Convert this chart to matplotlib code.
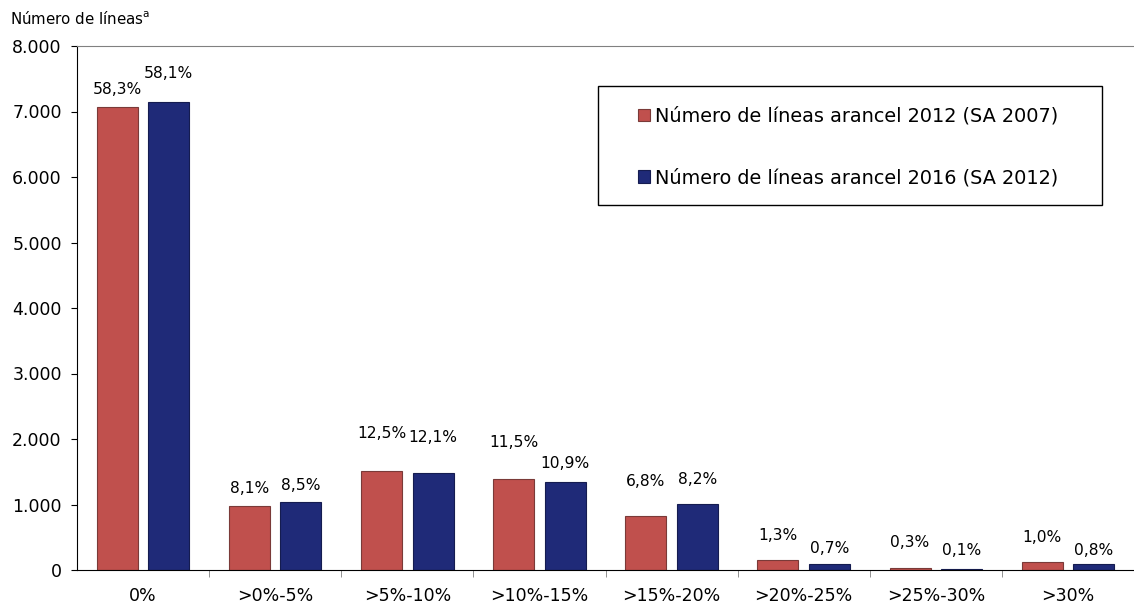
import numpy as np
import matplotlib.pyplot as plt
from matplotlib.patches import Rectangle

plt.rcParams['font.family'] = 'DejaVu Sans'

# tramos arancelarios
categorias = ['0%', '>0%-5%', '>5%-10%', '>10%-15%', '>15%-20%', '>20%-25%', '>25%-30%', '>30%']
# número de líneas
lineas_2012 = [7069, 982, 1516, 1394, 825, 158, 36, 121]
lineas_2016 = [7145, 1045, 1488, 1340, 1008, 86, 12, 98]
# porcentajes
pct_2012 = ['58,3%', '8,1%', '12,5%', '11,5%', '6,8%', '1,3%', '0,3%', '1,0%']
pct_2016 = ['58,1%', '8,5%', '12,1%', '10,9%', '8,2%', '0,7%', '0,1%', '0,8%']
# separación de las etiquetas sobre cada barra (pixeles)
sep_2012 = [17, 17, 37, 36, 34, 24, 25, 25]
sep_2016 = [29, 16, 35, 19, 24, 16, 19, 13]

rojo = '#C0504D'
azul = '#1F2A78'

fig = plt.figure(figsize=(11.34, 6.05), dpi=100)
ax = fig.add_axes([77/1134, 35/605, 1 - 77/1134, 524/605])

x = np.arange(len(categorias))
w = 0.31
d = 0.195
b1 = ax.bar(x - d, lineas_2012, w, color=rojo, edgecolor='#7a3a38', linewidth=0.8,
            label='Número de líneas arancel 2012 (SA 2007)')
b2 = ax.bar(x + d, lineas_2016, w, color=azul, edgecolor='#151c50', linewidth=0.8,
            label='Número de líneas arancel 2016 (SA 2012)')

for rect, txt, s in zip(b1, pct_2012, sep_2012):
    ax.annotate(txt, (rect.get_x() + rect.get_width()/2, rect.get_height()),
                xytext=(0, s), textcoords='offset pixels', ha='center', va='center', fontsize=11.2)
for rect, txt, s in zip(b2, pct_2016, sep_2016):
    ax.annotate(txt, (rect.get_x() + rect.get_width()/2, rect.get_height()),
                xytext=(0, s), textcoords='offset pixels', ha='center', va='center', fontsize=11.2)

ax.set_ylim(0, 8000)
ax.set_yticks(range(0, 8001, 1000))
ax.set_yticklabels(['0'] + [f'{v // 1000}.000' for v in range(1000, 8001, 1000)], fontsize=12.5)
ax.set_xlim(-0.5, -0.5 + (1134 - 76.7) / 132.6)
ax.set_xticks(x)
ax.set_xticklabels(categorias, fontsize=12.5)
ax.set_xticks(np.arange(0.5, len(categorias), 1), minor=True)
ax.tick_params(axis='x', which='major', length=0, pad=12)
ax.tick_params(axis='x', which='minor', length=5, color='#808080', direction='out')
ax.tick_params(axis='y', length=4, direction='out', pad=7)

ax.spines['right'].set_visible(False)
ax.spines['top'].set_color('#808080')
ax.spines['left'].set_color('black')
ax.spines['bottom'].set_color('black')

# recuadro de la leyenda
fig.patches.append(Rectangle((598/1134, 1 - 205/605), 504/1134, 119/605, transform=fig.transFigure,
                             facecolor='white', edgecolor='black', linewidth=1.0, zorder=5))
leg = fig.legend(loc='center left', bbox_to_anchor=(638/1134, 1 - 147/605), fontsize=13.9, frameon=False,
                 handlelength=0.62, handleheight=0.62, handletextpad=0.25, labelspacing=2.2,
                 borderpad=0, borderaxespad=0)
leg.set_zorder(6)

fig.text(10/1134, 1 - 18/605, 'Número de líneas$^{\\mathrm{a}}$', fontsize=10.8, va='center', ha='left')

fig.savefig('out.png', dpi=100)
